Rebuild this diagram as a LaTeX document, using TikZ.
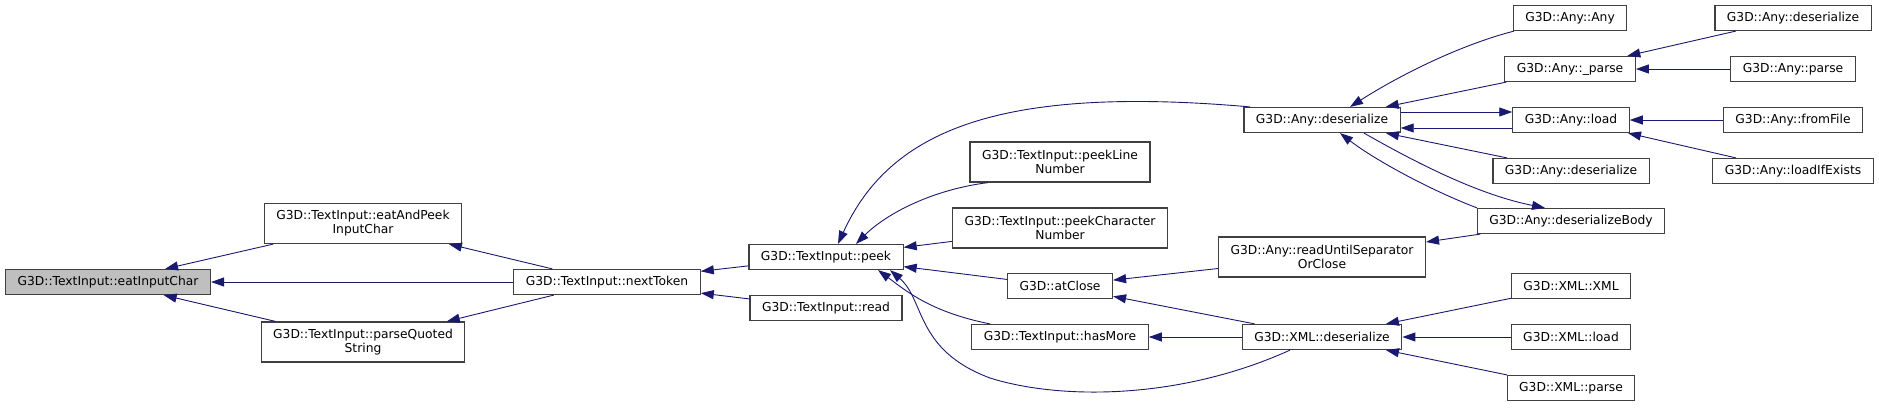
\documentclass[tikz,border=0pt]{standalone}
\usepackage{fontspec}
\setmainfont{DejaVu Sans}
\usetikzlibrary{arrows.meta}
\definecolor{edgeblue}{HTML}{191970}
\definecolor{boxgray}{HTML}{BFBFBF}

\begin{document}
\begin{tikzpicture}[x=1pt, y=-1pt,
	fn/.style={draw=black!75, line width=1.2pt, fill=white, inner xsep=12pt, inner ysep=3pt,
		minimum height=25pt, font=\fontsize{12.3}{14}\selectfont},
	two/.style={align=center, minimum height=40pt},
	link/.style={edgeblue, line width=0.9pt, >={Triangle[length=13pt,width=9pt]}}]

	\useasboundingbox (0,0) rectangle (1879,407);

	% left part
	\node[fn, fill=boxgray] (eatinput) at (108,282) {G3D::TextInput::eatInputChar};
	\node[fn, two] (eatpeek) at (363,223.5) {G3D::TextInput::eatAndPeek\\InputChar};
	\node[fn, two] (parsequoted) at (363,342) {G3D::TextInput::parseQuoted\\String};
	\node[fn] (nexttoken) at (607,282) {G3D::TextInput::nextToken};
	\node[fn] (peek) at (826,257) {G3D::TextInput::peek};
	\node[fn] (read) at (826,308) {G3D::TextInput::read};

	% middle
	\node[fn, two] (peekline) at (1060,162) {G3D::TextInput::peekLine\\Number};
	\node[fn, two] (peekchar) at (1060,228) {G3D::TextInput::peekCharacter\\Number};
	\node[fn] (atclose) at (1060,286) {G3D::atClose};
	\node[fn] (hasmore) at (1060,337) {G3D::TextInput::hasMore};
	\node[fn] (anydes) at (1322,120) {G3D::Any::deserialize};
	\node[fn, two] (readuntil) at (1322,257) {G3D::Any::readUntilSeparator\\OrClose};
	\node[fn] (xmldes) at (1322,337) {G3D::XML::deserialize};

	% right part
	\node[fn] (anyany) at (1570,18) {G3D::Any::Any};
	\node[fn] (anyuparse) at (1570,69) {G3D::Any::\_parse};
	\node[fn] (anyload) at (1571,120) {G3D::Any::load};
	\node[fn] (anydesb) at (1571,171) {G3D::Any::deserialize};
	\node[fn] (desbody) at (1571,221) {G3D::Any::deserializeBody};
	\node[fn] (xmlxml) at (1571,286) {G3D::XML::XML};
	\node[fn] (xmlload) at (1571,337) {G3D::XML::load};
	\node[fn] (xmlparse) at (1571,388) {G3D::XML::parse};
	\node[fn] (anydesc) at (1793,18) {G3D::Any::deserialize};
	\node[fn] (anyparse) at (1793,69) {G3D::Any::parse};
	\node[fn] (fromfile) at (1793,120) {G3D::Any::fromFile};
	\node[fn] (loadifexists) at (1793,171) {G3D::Any::loadIfExists};

	% straight calls
	\foreach \a/\b in {eatinput/eatpeek, eatinput/nexttoken, eatinput/parsequoted,
		eatpeek/nexttoken, parsequoted/nexttoken, nexttoken/peek, nexttoken/read,
		peek/peekchar, peek/atclose, atclose/readuntil, atclose/xmldes, hasmore/xmldes,
		anydes/anyuparse, anydes/anydesb, readuntil/desbody, anyuparse/anydesc,
		anyuparse/anyparse, anyload/fromfile, anyload/loadifexists,
		xmldes/xmlxml, xmldes/xmlload, xmldes/xmlparse}
	{
		\draw[link, <-] (\a) -- (\b);
	}

	% curved calls
	\draw[link, <-] ([xshift=12pt]peek.north) .. controls (890,130) and (1000,85) .. ([xshift=-72pt]anydes.north);
	\draw[link, <-] ([xshift=30pt]peek.north) .. controls (885,215) and (930,190) .. ([xshift=-72pt]peekline.south);
	\draw[link, <-] ([xshift=52pt]peek.south) .. controls (905,290) and (930,312) .. ([xshift=-70pt]hasmore.north);
	\draw[link, <-] ([xshift=64pt]peek.south) .. controls (925,300) and (915,350) .. (990,378)
		.. controls (1060,400) and (1180,400) .. ([xshift=-32pt]xmldes.south);
	\draw[link, <-] ([xshift=28pt]anydes.north) .. controls (1400,75) and (1460,45) .. ([xshift=-56pt]anyany.south);
	\draw[link, ->] ([yshift=8pt]anydes.east) -- ([yshift=8pt]anyload.west);
	\draw[link, <-] ([yshift=-8pt]anydes.east) -- ([yshift=-8pt]anyload.west);
	\draw[link, ->] ([xshift=42pt]anydes.south) .. controls (1420,165) and (1480,195) .. ([xshift=-26pt]desbody.north);
	\draw[link, <-] ([xshift=18pt]anydes.south) .. controls (1375,160) and (1430,190) .. ([xshift=-94pt]desbody.north);

\end{tikzpicture}
\end{document}
